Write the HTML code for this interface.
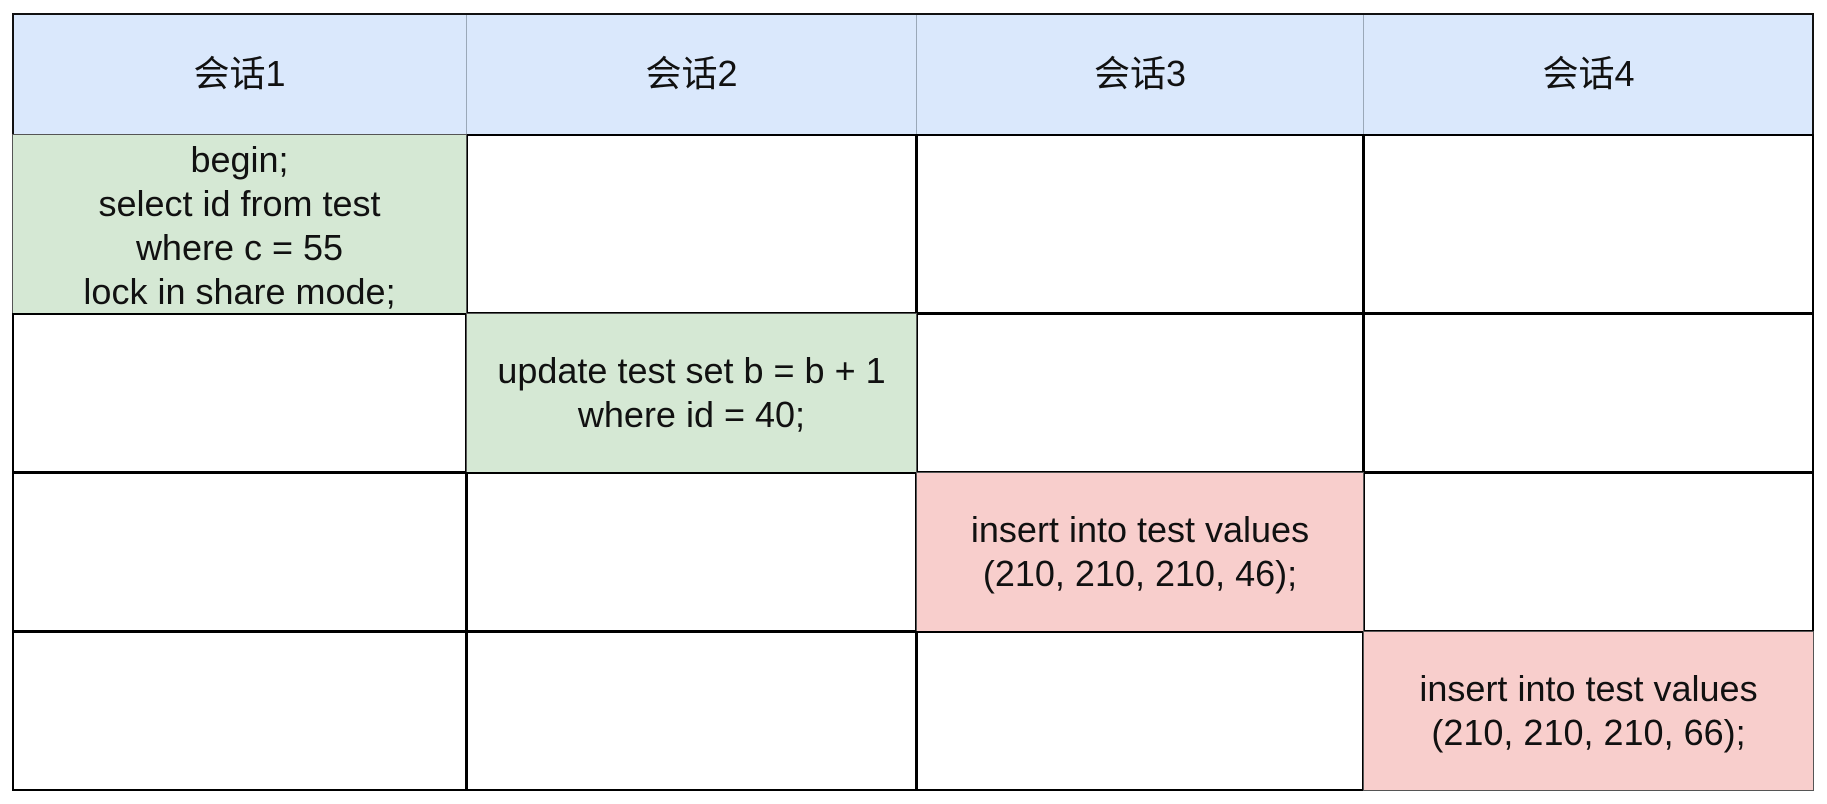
<!DOCTYPE html>
<html><head><meta charset="utf-8"><style>
body{margin:0;width:1827px;height:804px;background:#fff;position:relative;overflow:hidden;font-family:"Liberation Sans","Noto Sans CJK SC",sans-serif;}
.c{position:absolute;box-sizing:border-box;display:flex;align-items:center;justify-content:center;text-align:center;font-size:36px;line-height:44px;color:#111;}
.h{background:#dae8fc;border:1px solid #9aa8b8;}
.w{background:#fff;border:2px solid #000;}
.g{background:#d5e8d4;border:1.5px solid #555;}
.r{background:#f8cecc;border:1.5px solid #555;}
</style></head><body>
<div class="c h" style="left:12px;top:13px;width:455px;height:122px">会话1</div>
<div class="c h" style="left:466px;top:13px;width:451px;height:122px">会话2</div>
<div class="c h" style="left:916px;top:13px;width:448px;height:122px">会话3</div>
<div class="c h" style="left:1363px;top:13px;width:451px;height:122px">会话4</div>
<div style="position:absolute;left:12px;top:13px;width:1802px;height:2px;background:#111"></div>
<div style="position:absolute;left:12px;top:13px;width:2px;height:122px;background:#111"></div>
<div style="position:absolute;left:1812px;top:13px;width:2px;height:122px;background:#111"></div>

<div class="c w" style="left:466px;top:134px;width:451px;height:180px"></div>
<div class="c w" style="left:916px;top:134px;width:448px;height:180px"></div>
<div class="c w" style="left:1363px;top:134px;width:451px;height:180px"></div>
<div class="c g" style="left:12px;top:134px;width:455px;height:180px;padding-top:4px">begin;<br>select id from test<br>where c = 55<br>lock in share mode;</div>

<div class="c w" style="left:12px;top:313px;width:455px;height:160px"></div>
<div class="c w" style="left:916px;top:313px;width:448px;height:160px"></div>
<div class="c w" style="left:1363px;top:313px;width:451px;height:160px"></div>
<div class="c g" style="left:466px;top:313px;width:451px;height:160px">update test set b = b + 1<br>where id = 40;</div>

<div class="c w" style="left:12px;top:472px;width:455px;height:160px"></div>
<div class="c w" style="left:466px;top:472px;width:451px;height:160px"></div>
<div class="c w" style="left:1363px;top:472px;width:451px;height:160px"></div>
<div class="c r" style="left:916px;top:472px;width:448px;height:160px">insert into test values<br>(210, 210, 210, 46);</div>

<div class="c w" style="left:12px;top:631px;width:455px;height:160px"></div>
<div class="c w" style="left:466px;top:631px;width:451px;height:160px"></div>
<div class="c w" style="left:916px;top:631px;width:448px;height:160px"></div>
<div class="c r" style="left:1363px;top:631px;width:451px;height:160px">insert into test values<br>(210, 210, 210, 66);</div>
</body></html>
